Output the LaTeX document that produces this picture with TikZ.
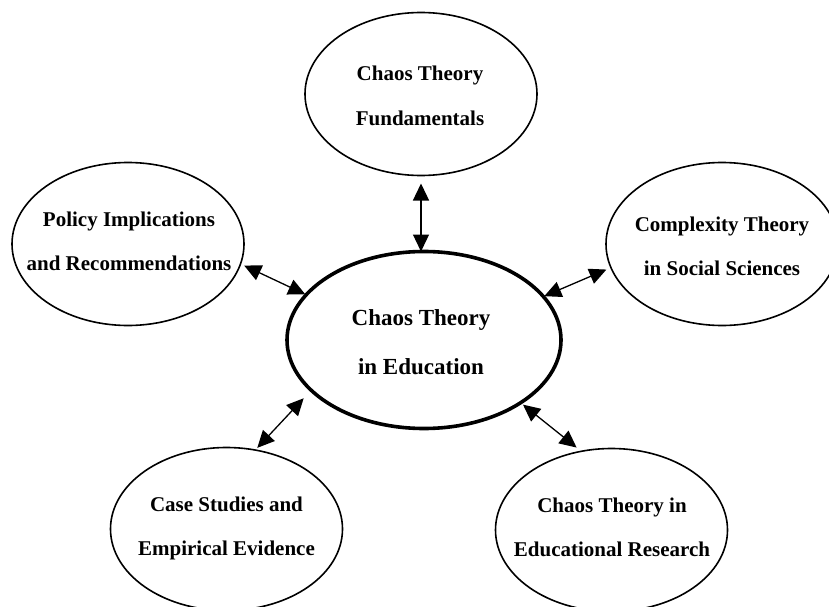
\documentclass[tikz,border=0pt]{standalone}
\usepackage{fontspec}
\setmainfont{Liberation Serif}
\usetikzlibrary{shapes.geometric,arrows.meta}
\begin{document}
\begin{tikzpicture}[x=1pt,y=-1pt,
  bubble/.style={draw,ellipse,line width=1.6pt,minimum width=232pt,minimum height=163pt,inner sep=0pt,outer sep=0pt},
  hub/.style={draw,ellipse,line width=3.6pt,minimum width=274pt,minimum height=177pt,inner sep=0pt,outer sep=0pt},
  lbl/.style={align=center,inner sep=0pt,text height=0.7em,text depth=0pt,font=\fontsize{21}{44}\selectfont\bfseries},
  hublbl/.style={align=center,inner sep=0pt,text height=0.7em,text depth=0pt,font=\fontsize{23}{49}\selectfont\bfseries},
  link/.style={{Triangle[length=17pt,width=16pt]}-{Triangle[length=17pt,width=16pt]},line width=1.3pt}
]
\useasboundingbox (0,0) rectangle (829,607);
% ellipses
\node[bubble] (top)  at (421,94) {};
\node[bubble] (pol)  at (128,244) {};
\node[bubble] (comp) at (722,244) {};
\node[bubble] (case) at (226.5,529) {};
\node[bubble] (res)  at (611.5,530) {};
\node[hub]    (c)    at (424,340) {};
% labels
\node[lbl] (topt)  at (420,121.5) {Chaos Theory\\Fundamentals};
\node[lbl] (polt)  at (129,267) {Policy Implications\\and Recommendations};
\node[lbl] (compt) at (722,272) {Complexity Theory\\in Social Sciences};
\node[lbl] (caset) at (226.5,552) {Case Studies and\\Empirical Evidence};
\node[lbl] (rest)  at (612,553) {Chaos Theory in\\Educational Research};
\node[hublbl] (ct) at (421,371.3) {Chaos Theory\\in Education};
% connectors
\draw[link, shorten <=8pt] (top.south) -- (top.south |- c.north);
\draw[link, shorten <=4pt, shorten >=1pt] (pol.-10.2) -- (c.159.3);
\draw[link, shorten <=5pt, shorten >=1pt] (comp.-168.6) -- (c.20.8);
\draw[link, shorten <=3pt, shorten >=11pt] (case.70.5) -- (c.-156.2);
\draw[link, shorten <=6pt, shorten >=3pt] (res.111.3) -- (c.-33.3);
\end{tikzpicture}
\end{document}
